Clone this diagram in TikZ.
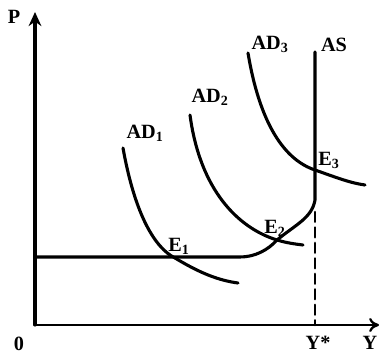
\documentclass[tikz,border=0pt]{standalone}
\usepackage{fontspec}
\setmainfont{Liberation Serif}
\usetikzlibrary{arrows.meta}
\begin{document}
\begin{tikzpicture}[>=stealth,line join=round,line cap=round,font=\Large\bfseries,x=0.025cm,y=-0.025cm,
	curve/.style={line width=2.2pt},
	lbl/.style={inner sep=1pt}]
	\useasboundingbox (0,0) rectangle (379,354);
	% Hệ trục tọa độ
	\draw[line width=2.2pt,-{Stealth[length=10pt,width=9pt]}] (35,325) -- (35,12);
	\draw[line width=1.6pt,-{To[length=7pt,width=10pt]}] (35,325) -- (379,325);
	\node[lbl] (P) at (14,17) {P};
	\node[lbl] (O) at (19,344) {0};
	\node[lbl] (Y) at (370,343) {Y};
	\node[lbl] (Ystar) at (318,343) {Y*};
	
	% Các điểm cân bằng
	\coordinate (E1) at (175,258);
	\coordinate (E2) at (277,240);
	\coordinate (E3) at (315,170);
	
	% Đường AS
	\draw[curve] (35,257) -- (240,257) .. controls (255,257) and (268,250) .. (E2)
		.. controls (295,225) and (312,218) .. (315,200) -- (315,52);
	\draw[line width=1.8pt,dashed,dash pattern=on 7pt off 4pt] (315,212) -- (315,325);
	
	% Các đường AD
	\draw[curve] (123,148) .. controls (135,215) and (155,248) .. (E1)
		.. controls (195,270) and (215,280) .. (238,283);
	\draw[curve] (190,115) .. controls (200,190) and (238,228) .. (E2)
		.. controls (287,243) and (295,244) .. (303,245);
	\draw[curve] (248,53) .. controls (260,125) and (285,160) .. (E3)
		.. controls (335,177) and (350,183) .. (365,185);
	
	% Nhãn
	\node[lbl] (AD1) at (145,133) {AD$_\mathbf{1}$};
	\node[lbl] (AD2) at (210,97) {AD$_\mathbf{2}$};
	\node[lbl] (AD3) at (270,44) {AD$_\mathbf{3}$};
	\node[lbl] (AS) at (334,45) {AS};
	\node[lbl] (lE1) at (179,246) {E$_\mathbf{1}$};
	\node[lbl] (lE2) at (275,228) {E$_\mathbf{2}$};
	\node[lbl] (lE3) at (329,160) {E$_\mathbf{3}$};
\end{tikzpicture}
\end{document}
